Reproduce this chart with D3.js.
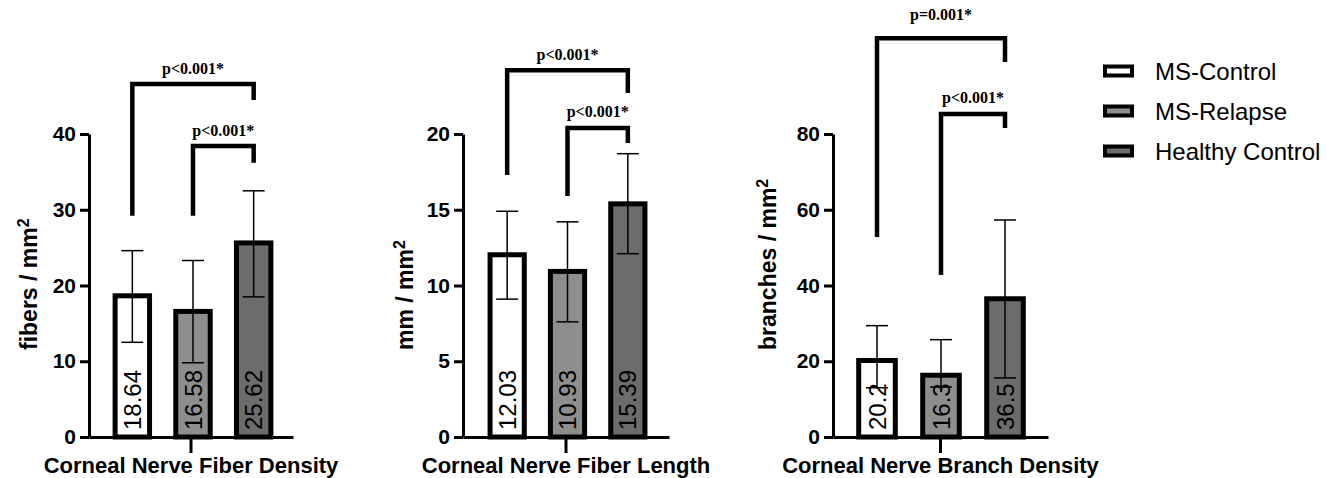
<!DOCTYPE html>
<html>
<head>
<meta charset="utf-8">
<script src="https://cdn.jsdelivr.net/npm/d3@7"></script>
<style>
  html, body { margin: 0; padding: 0; background: #fff; }
  svg { display: block; }
  .axis path, .axis line { stroke: #000; stroke-width: 3; }
  .axis text { fill: #000; font-family: "Liberation Sans", Arial, sans-serif; font-weight: bold; }
</style>
</head>
<body>
<div id="chart"></div>
<script>
// ---- data ----
const groups = ['MS-Control', 'MS-Relapse', 'Healthy Control'];
const panelTitles = ['Corneal Nerve Fiber Density', 'Corneal Nerve Fiber Length', 'Corneal Nerve Branch Density'];
const unitLabels = ['fibers / mm', 'mm / mm', 'branches / mm'];
const yMax = [40, 20, 80];
const yStep = [10, 5, 20];

const densityMean = [18.64, 16.58, 25.62];
const densityLow = [12.5, 9.8, 18.5];
const densityHigh = [24.6, 23.3, 32.5];

const lengthMean = [12.03, 10.93, 15.39];
const lengthLow = [9.1, 7.6, 12.1];
const lengthHigh = [14.9, 14.2, 18.7];

const branchMean = [20.2, 16.3, 36.5];
const branchLow = [13.0, 13.2, 15.6];
const branchHigh = [29.4, 25.7, 57.3];

// significance brackets (heights in data units)
const densityBrackets = [
    {from: 0, to: 2, top: 46.6, leftEnd: 29.2, rightEnd: 44.5, label: 'p<0.001*'},
    {from: 1, to: 2, top: 38.4, leftEnd: 29.2, rightEnd: 36.2, label: 'p<0.001*'}
];
const lengthBrackets = [
    {from: 0, to: 2, top: 24.2, leftEnd: 17.3, rightEnd: 22.7, label: 'p<0.001*'},
    {from: 1, to: 2, top: 20.4, leftEnd: 15.9, rightEnd: 19.4, label: 'p<0.001*'}
];
const branchBrackets = [
    {from: 0, to: 2, top: 105.3, leftEnd: 52.8, rightEnd: 99.0, label: 'p=0.001*', labelAt: 110},
    {from: 1, to: 2, top: 85.3, leftEnd: 42.8, rightEnd: 81.6, label: 'p<0.001*'}
];

// ---- layout / style ----
const width = 1326, height = 478;
const fills = ['#ffffff', '#8e8e8e', '#6c6c6c'];
const yBottom = 437, yTop = 134;
const barStroke = 5;
const layout = [
    {x0: 89, x1: 293, bandLo: 102, bandHi: 284, titleX: 37},
    {x0: 463, x1: 669, bandLo: 477, bandHi: 658, titleX: 413},
    {x0: 833, x1: 1048, bandLo: 845, bandHi: 1037, titleX: 776}
];

const panels = [
    {mean: densityMean, low: densityLow, high: densityHigh, brackets: densityBrackets},
    {mean: lengthMean, low: lengthLow, high: lengthHigh, brackets: lengthBrackets},
    {mean: branchMean, low: branchLow, high: branchHigh, brackets: branchBrackets}
];

const svg = d3.select('#chart').append('svg')
    .attr('width', width)
    .attr('height', height)
    .style('background', '#fff');

function drawPanel(i) {
    const p = panels[i], L = layout[i];
    const g = svg.append('g');

    const x = d3.scaleBand()
        .domain(groups)
        .range([L.bandLo, L.bandHi])
        .paddingInner(0.35)
        .paddingOuter(0.175);

    const y = d3.scaleLinear()
        .domain([0, yMax[i]])
        .range([yBottom, yTop]);

    // bars
    g.selectAll('.bar')
        .data(groups)
        .enter().append('rect')
        .attr('class', 'bar')
        .attr('x', d => x(d) + barStroke / 2)
        .attr('width', x.bandwidth() - barStroke)
        .attr('y', (d, j) => y(p.mean[j]))
        .attr('height', (d, j) => y(0) - y(p.mean[j]))
        .style('fill', (d, j) => fills[j])
        .style('stroke', '#000')
        .style('stroke-width', barStroke);

    // value labels inside bars
    g.selectAll('.val')
        .data(groups)
        .enter().append('text')
        .attr('class', 'val')
        .attr('transform', d => 'translate(' + (x(d) + x.bandwidth() / 2) + ',' + (yBottom - 7) + ') rotate(-90)')
        .attr('dy', '0.36em')
        .style('font-family', '"Liberation Sans", Arial, sans-serif')
        .style('font-size', '24px')
        .text((d, j) => String(p.mean[j]));

    // error bars
    const cap = 11;
    const eb = g.selectAll('.err')
        .data(groups)
        .enter().append('g')
        .attr('class', 'err')
        .style('stroke', '#000')
        .style('stroke-width', 1.5);
    eb.append('line')
        .attr('x1', d => x(d) + x.bandwidth() / 2)
        .attr('x2', d => x(d) + x.bandwidth() / 2)
        .attr('y1', (d, j) => y(p.low[j]))
        .attr('y2', (d, j) => y(p.high[j]));
    eb.append('line')
        .attr('x1', d => x(d) + x.bandwidth() / 2 - cap)
        .attr('x2', d => x(d) + x.bandwidth() / 2 + cap)
        .attr('y1', (d, j) => y(p.high[j]))
        .attr('y2', (d, j) => y(p.high[j]));
    eb.append('line')
        .attr('x1', d => x(d) + x.bandwidth() / 2 - cap)
        .attr('x2', d => x(d) + x.bandwidth() / 2 + cap)
        .attr('y1', (d, j) => y(p.low[j]))
        .attr('y2', (d, j) => y(p.low[j]));

    // y axis
    const yAxis = g.append('g')
        .attr('class', 'axis')
        .attr('transform', 'translate(' + L.x0 + ',0)')
        .call(d3.axisLeft(y).tickValues(d3.range(0, yMax[i] + 1, yStep[i])).tickSize(9).tickSizeOuter(0).tickPadding(4));
    yAxis.selectAll('text').style('font-size', '21px');

    // x axis (single category)
    const xc = d3.scaleBand().domain([panelTitles[i]]).range([L.x0, L.x1]);
    const xAxis = g.append('g')
        .attr('class', 'axis')
        .attr('transform', 'translate(0,' + yBottom + ')')
        .call(d3.axisBottom(xc).tickSize(16).tickSizeOuter(0).tickPadding(4));
    xAxis.selectAll('text').style('font-size', '22px');

    // y title
    const t = g.append('text')
        .attr('transform', 'translate(' + L.titleX + ',350) rotate(-90)')
        .style('font-family', '"Liberation Sans", Arial, sans-serif')
        .style('font-weight', 'bold')
        .style('font-size', '23px')
        .text(unitLabels[i]);
    t.append('tspan')
        .attr('dy', '-0.5em')
        .style('font-size', '16px')
        .text('2');

    // significance brackets
    const cx = j => x(groups[j]) + x.bandwidth() / 2;
    p.brackets.forEach(b => {
        g.append('path')
            .attr('d', 'M' + cx(b.from) + ',' + y(b.leftEnd) + 'V' + y(b.top) + 'H' + cx(b.to) + 'V' + y(b.rightEnd))
            .style('fill', 'none')
            .style('stroke', '#000')
            .style('stroke-width', 4.5)
            .style('stroke-linejoin', 'miter');
        g.append('text')
            .attr('x', (cx(b.from) + cx(b.to)) / 2)
            .attr('y', b.labelAt != null ? y(b.labelAt) : y(b.top) - 10.5)
            .attr('text-anchor', 'middle')
            .style('font-family', '"Liberation Serif", "Times New Roman", serif')
            .style('font-weight', 'bold')
            .style('font-size', '16px')
            .text(b.label);
    });
}

for (let i = 0; i < panels.length; i++) drawPanel(i);

// legend
const legendY = d3.scalePoint().domain(groups).range([71, 151]);
const legend = svg.append('g').attr('class', 'legend');
const item = legend.selectAll('.item')
    .data(groups)
    .enter().append('g')
    .attr('class', 'item')
    .attr('transform', d => 'translate(0,' + legendY(d) + ')');
item.append('rect')
    .attr('x', 1105)
    .attr('y', -4.5)
    .attr('width', 27)
    .attr('height', 9)
    .style('fill', (d, j) => fills[j])
    .style('stroke', '#000')
    .style('stroke-width', 4);
item.append('text')
    .attr('x', 1155)
    .attr('dy', '0.36em')
    .style('font-family', '"Liberation Sans", Arial, sans-serif')
    .style('font-size', '24px')
    .text(d => d);
</script>
</body>
</html>
